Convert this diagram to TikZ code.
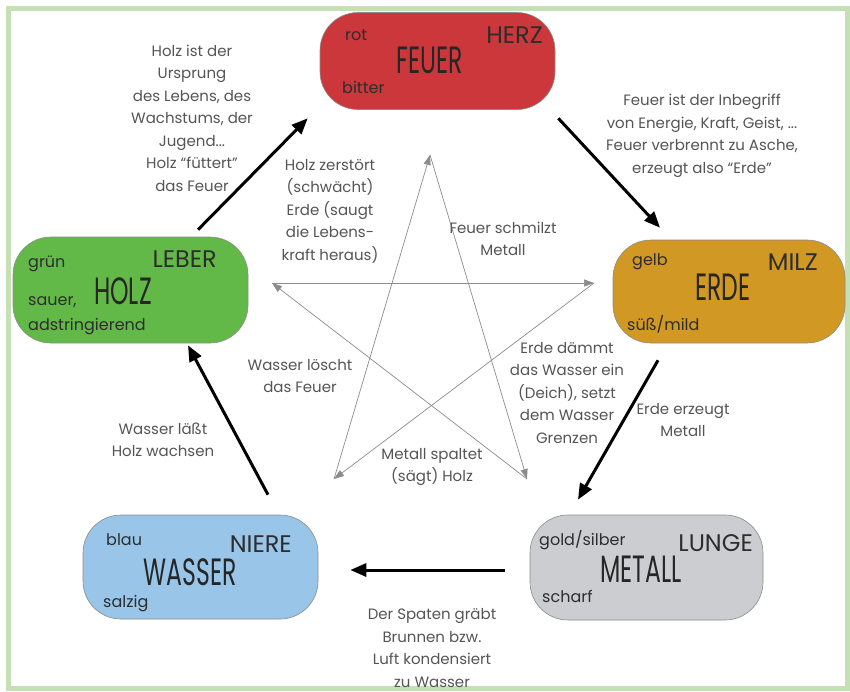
\documentclass[tikz,border=0pt]{standalone}
\usepackage{fontspec}
\setmainfont{Poppins}
\newfontfamily\brushfont{Poppins}[FakeStretch=0.62]
\usetikzlibrary{arrows.meta}

\definecolor{framegreen}{RGB}{197,224,180}
\definecolor{feuerred}{RGB}{203,55,58}
\definecolor{holzgreen}{RGB}{98,185,72}
\definecolor{erdegold}{RGB}{209,152,36}
\definecolor{metallgrey}{RGB}{204,205,208}
\definecolor{wasserblue}{RGB}{152,197,232}
\definecolor{textgrey}{RGB}{85,85,85}
\definecolor{labelgrey}{RGB}{45,45,45}

\tikzset{
  element/.style={draw=black!45, line width=0.6pt, rounded corners=38pt, minimum width=235pt, inner sep=0pt},
  taste/.style={font=\fontsize{16}{16}\selectfont, text=labelgrey, inner sep=0pt},
  organ/.style={font=\fontsize{24}{24}\selectfont, text=labelgrey, inner sep=0pt},
  title/.style={font=\brushfont\fontsize{38}{38}\selectfont, text=black!85, inner sep=0pt},
  remark/.style={font=\fontsize{15}{22.5}\selectfont, text=textgrey, align=center, inner sep=0pt},
  cycle/.style={line width=3pt, -{Triangle[length=16pt,width=13pt]}},
  control/.style={draw=black!45, line width=0.7pt, -{Triangle[length=10pt,width=7pt]}, color=black!45}
}

\begin{document}
\begin{tikzpicture}[x=1pt,y=-1pt]
\useasboundingbox (0,0) rectangle (850,691);
\fill[white] (0,0) rectangle (850,691);
\draw[framegreen, line width=5pt] (8,8) rectangle (847,688);

% Elemente
\node[element, fill=feuerred, minimum height=97pt] (feuer) at (437.5,61) {};
\node[element, fill=holzgreen, minimum height=106pt] (holz) at (130.5,290) {};
\node[element, fill=erdegold, minimum height=103pt, minimum width=232pt] (erde) at (729,291.5) {};
\node[element, fill=metallgrey, minimum height=105pt, minimum width=233pt] (metall) at (646.5,567.5) {};
\node[element, fill=wasserblue, minimum height=104pt] (wasser) at (200.5,567) {};

\node[taste, anchor=base west] (feuerfarbe) at (345,40) {rot};
\node[taste, anchor=base west] (feuergeschmack) at (342,93) {bitter};
\node[organ, anchor=base east] (herz) at (543,43) {HERZ};
\node[title, anchor=base] (feuername) at (430,73) {FEUER};

\node[taste, anchor=base west] (holzfarbe) at (28,267) {grün};
\node[taste, anchor=base west] (holzgeschmack) at (28,305) {sauer,};
\node[taste, anchor=base west] (holzgeschmackb) at (28,330) {adstringierend};
\node[organ, anchor=base east] (leber) at (217,267) {LEBER};
\node[title, anchor=base] (holzname) at (123,304) {HOLZ};

\node[taste, anchor=base west] (erdefarbe) at (632,265) {gelb};
\node[taste, anchor=base west] (erdegeschmack) at (627,330) {süß/mild};
\node[organ, anchor=base east] (milz) at (818,270) {MILZ};
\node[title, anchor=base] (erdename) at (723,300) {ERDE};

\node[taste, anchor=base west] (metallfarbe) at (539,545) {gold/silber};
\node[taste, anchor=base west] (metallgeschmack) at (542,602) {scharf};
\node[organ, anchor=base east] (lunge) at (753,551) {LUNGE};
\node[title, anchor=base] (metallname) at (641,582) {METALL};

\node[taste, anchor=base west] (wasserfarbe) at (106,545) {blau};
\node[taste, anchor=base west] (wassergeschmack) at (103,607) {salzig};
\node[organ, anchor=base east] (niere) at (292,552) {NIERE};
\node[title, anchor=base] (wassername) at (190,585) {WASSER};

% Erzeugungszyklus
\draw[cycle] ([xshift=67.5pt,yshift=7pt]holz.north) -- ([xshift=-12pt,yshift=-8.5pt]feuer.south west);
\draw[cycle] ([xshift=3pt,yshift=-8.5pt]feuer.south east) -- ([xshift=-69pt,yshift=12pt]erde.north);
\draw[cycle] ([xshift=-71pt,yshift=-17pt]erde.south) -- ([xshift=-68.5pt,yshift=15pt]metall.north);
\draw[cycle] ([xshift=-25pt,yshift=-2.5pt]metall.west) -- ([xshift=32pt,yshift=-3pt]wasser.east);
\draw[cycle] ([xshift=67.5pt,yshift=20pt]wasser.north) -- ([xshift=57.5pt,yshift=-2pt]holz.south);

% Kontrollzyklus (Stern)
\coordinate (T) at (430,155);
\coordinate (L) at (272,283);
\coordinate (R) at (594,283);
\coordinate (BL) at (334,479);
\coordinate (BR) at (527,479);
\draw[control] (L) -- (R);
\draw[control] (R) -- (BL);
\draw[control] (BL) -- (T);
\draw[control] (T) -- (BR);
\draw[control] (BR) -- (L);

% Erklaerungen
\node[remark] (holzfeuer) at (192,118) {Holz ist der\\Ursprung\\des Lebens, des\\Wachstums, der\\Jugend...\\Holz “füttert”\\das Feuer};
\node[remark] (feuererde) at (702,136) {Feuer ist der Inbegriff\\von Energie, Kraft, Geist, ...\\Feuer verbrennt zu Asche,\\erzeugt also “Erde”};
\node[remark] (holzerde) at (330,211) {Holz zerstört\\(schwächt)\\Erde (saugt\\die Lebens-\\kraft heraus)};
\node[remark] (feuermetall) at (503,239) {Feuer schmilzt\\Metall};
\node[remark] (erdewasser) at (567,393) {Erde dämmt\\das Wasser ein\\(Deich), setzt\\dem Wasser\\Grenzen};
\node[remark] (erdemetall) at (683,420) {Erde erzeugt\\Metall};
\node[remark] (wasserfeuer) at (300,376) {Wasser löscht\\das Feuer};
\node[remark] (metallholz) at (432,467) {Metall spaltet\\(sägt) Holz};
\node[remark] (wasserholz) at (163,440) {Wasser läßt\\Holz wachsen};
\node[remark] (metallwasser) at (432,648) {Der Spaten gräbt\\Brunnen bzw.\\Luft kondensiert\\zu Wasser};

\end{tikzpicture}
\end{document}
